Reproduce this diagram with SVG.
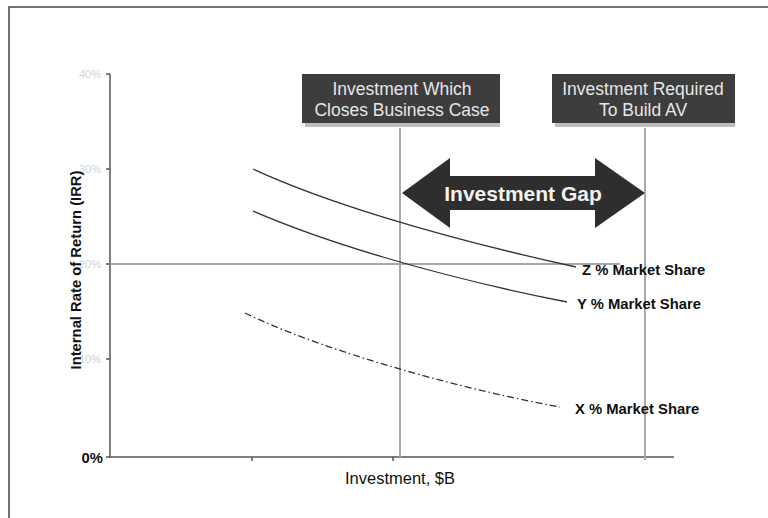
<svg xmlns="http://www.w3.org/2000/svg" width="768" height="518" viewBox="0 0 768 518">
<defs>
<style>
.axis{stroke:#555;stroke-width:1.5;fill:none}
.grid{stroke:#a8a8a8;stroke-width:2;fill:none}
.curve{stroke:#333;stroke-width:1.3;fill:none}
.box{fill:#3d3d3d}
.shadow{fill:#bdbdbd}
.boxtxt{font-family:"Liberation Sans",Arial,sans-serif;font-size:17.5px;fill:#e6e6e6;text-anchor:middle}
.lbl{font-family:"Liberation Sans",Arial,sans-serif;font-size:14.8px;font-weight:bold;fill:#111}
.tick{font-family:"Liberation Sans",Arial,sans-serif;font-size:11px;fill:#d2d2d2;text-anchor:end}
</style>
</defs>
<rect width="768" height="518" fill="#fff"/>
<path d="M9,518 V7 H768" stroke="#444" stroke-width="1.5" fill="none"/>
<g id="axes">
<path class="axis" d="M110,74 V457 H674"/>
<path class="axis" d="M106,74 H110 M106,169 H110 M106,264 H110 M106,359 H110 M106,457 H110 M252,457 V461 M393,457 V461"/>
<text class="tick" x="101" y="78">40%</text>
<text class="tick" x="101" y="173">30%</text>
<text class="tick" x="101" y="268">20%</text>
<text class="tick" x="101" y="363">10%</text>
<text class="lbl" x="103" y="463" text-anchor="end" font-size="15">0%</text>
<text class="lbl" x="81" y="270" transform="rotate(-90 81 270)" text-anchor="middle" font-size="17.5">Internal Rate of Return (IRR)</text>
<text x="400" y="484" text-anchor="middle" font-family="Liberation Sans, Arial, sans-serif" font-size="16.5" fill="#111">Investment, $B</text>
</g>
<g id="guides">
<path class="grid" d="M110,264 H620"/>
<path class="grid" d="M400,128 V457"/>
<path class="grid" d="M645,128 V460"/>
</g>
<g id="curves">
<path class="curve" d="M253,169 C320,200 430,235 576,267"/>
<path class="curve" d="M253,211 C320,240 430,275 567,302"/>
<path class="curve" d="M245,313 C310,345 440,385 560,407" stroke-dasharray="7,3,1.5,3"/>
</g>
<g id="box1">
<rect class="shadow" x="305" y="123" width="195" height="4"/>
<rect class="box" x="302" y="74" width="198" height="49"/>
<text class="boxtxt" x="402" y="95">Investment Which</text>
<text class="boxtxt" x="402" y="116">Closes Business Case</text>
</g>
<g id="box2">
<rect class="shadow" x="555" y="123" width="180" height="4"/>
<rect class="box" x="552" y="74" width="183" height="49"/>
<text class="boxtxt" x="643" y="95">Investment Required</text>
<text class="boxtxt" x="643" y="116">To Build AV</text>
</g>
<g id="gap">
<polygon fill="#2e2e2e" points="402,193 450,158 450,176 595,176 595,158 645,193 595,228 595,210 450,210 450,228"/>
<text x="523" y="201" text-anchor="middle" font-family="Liberation Sans, Arial, sans-serif" font-size="21" font-weight="bold" fill="#f2f2f2">Investment Gap</text>
</g>
<g id="labels">
<text class="lbl" x="582" y="275">Z % Market Share</text>
<text class="lbl" x="577" y="309">Y % Market Share</text>
<text class="lbl" x="575" y="414">X % Market Share</text>
</g>
</svg>
